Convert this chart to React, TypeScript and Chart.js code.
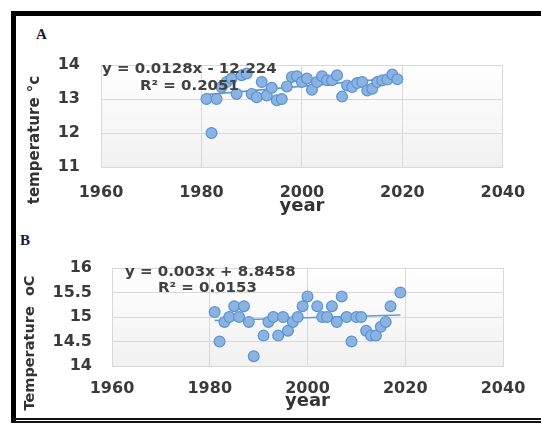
import React, { useEffect, useRef } from "react";
import { Chart, registerables } from "chart.js";

Chart.register(...registerables);

// ---------- data ----------
const xTickValues = [1960, 1980, 2000, 2020, 2040];

const yearsA = [1981, 1982, 1983, 1984, 1985, 1986, 1987, 1988, 1989, 1990, 1991, 1992, 1993, 1994, 1995, 1996, 1997, 1998, 1999, 2000, 2001, 2002, 2003, 2004, 2005, 2006, 2007, 2008, 2009, 2010, 2011, 2012, 2013, 2014, 2015, 2016, 2017, 2018, 2019];
const tempA = [13.0, 12.0, 13.0, 13.35, 13.5, 13.6, 13.15, 13.7, 13.75, 13.15, 13.05, 13.5, 13.1, 13.33, 12.96, 13.0, 13.37, 13.65, 13.67, 13.5, 13.6, 13.27, 13.5, 13.67, 13.55, 13.55, 13.7, 13.07, 13.4, 13.35, 13.47, 13.5, 13.25, 13.3, 13.5, 13.55, 13.57, 13.72, 13.58];
const trendYearsA = [1981, 2019];
const trendA = [13.13, 13.62];
const eqA = ["y = 0.0128x - 12.224", "R\u00B2 = 0.2051"];
const yTicksA = [11, 12, 13, 14];

const yearsB = [1981, 1982, 1983, 1984, 1985, 1986, 1987, 1988, 1989, 1991, 1992, 1993, 1994, 1995, 1996, 1997, 1998, 1999, 2000, 2002, 2003, 2004, 2005, 2006, 2007, 2008, 2009, 2010, 2011, 2012, 2013, 2014, 2015, 2016, 2017, 2019];
const tempB = [15.1, 14.5, 14.9, 15.0, 15.22, 15.0, 15.22, 14.9, 14.2, 14.62, 14.9, 15.0, 14.62, 15.0, 14.72, 14.9, 15.0, 15.22, 15.42, 15.22, 15.0, 15.0, 15.22, 14.9, 15.42, 15.0, 14.5, 15.0, 15.0, 14.72, 14.62, 14.62, 14.8, 14.9, 15.22, 15.5];
const trendYearsB = [1981, 2019];
const trendB = [14.93, 15.04];
const eqB = ["y = 0.003x + 8.8458", "R\u00B2 = 0.0153"];
const yTicksB = [14, 14.5, 15, 15.5, 16];

// ---------- styling ----------
const FONT = "'DejaVu Sans', Verdana, sans-serif";
const GRID = "#d9d9d9";
const TEXT = "#3a3a3a";

type Geo = {
  left: number; top: number; width: number; height: number;
  padTop: number; padRight: number;
  yAxisW: number; yTickPad: number; yTitlePos: number[]; yTitleSize: number;
  xAxisH: number; xTickPad: number; xTitlePadB: number;
  eqPos: number[][]; // offsets from chart area left/top
};

type PanelProps = {
  years: number[]; temps: number[]; trendYears: number[]; trendVals: number[];
  yTicks: number[]; eq: string[]; yTitle: string; geo: Geo;
};

function Panel({ years, temps, trendYears, trendVals, yTicks, eq, yTitle, geo }: PanelProps) {
  const ref = useRef<HTMLCanvasElement | null>(null);
  useEffect(() => {
    if (!ref.current) return;
    const bgPlugin = {
      id: "bgGrad",
      beforeDraw(chart: any) {
        const { ctx, chartArea: a } = chart;
        const g = ctx.createLinearGradient(0, a.top, 0, a.bottom);
        g.addColorStop(0, "#ffffff");
        g.addColorStop(1, "#f1f1f1");
        ctx.save();
        ctx.fillStyle = g;
        ctx.fillRect(a.left, a.top, a.right - a.left, a.bottom - a.top);
        ctx.restore();
      },
    };
    const textPlugin = {
      id: "eqText",
      afterDatasetsDraw(chart: any) {
        const { ctx, chartArea: a } = chart;
        ctx.save();
        ctx.font = `bold 14px ${FONT}`;
        ctx.fillStyle = "#404040";
        ctx.textBaseline = "middle";
        ctx.textAlign = "left";
        eq.forEach((t, i) => {
          const [dx, dy] = geo.eqPos[i];
          ctx.save();
          ctx.translate(a.left + dx, a.top + dy);
          ctx.scale(1.07, 1);
          ctx.fillText(t, 0, 0);
          ctx.restore();
        });
        // rotated y-axis title
        ctx.save();
        ctx.font = `bold ${geo.yTitleSize}px ${FONT}`;
        ctx.fillStyle = "#333";
        ctx.textAlign = "center";
        ctx.textBaseline = "middle";
        ctx.translate(geo.yTitlePos[0], geo.yTitlePos[1]);
        ctx.rotate(-Math.PI / 2);
        ctx.fillText(yTitle, 0, 0);
        ctx.restore();
        ctx.restore();
      },
    };
    const chart = new Chart(ref.current, {
      type: "scatter",
      data: {
        datasets: [
          {
            data: years.map((x, i) => ({ x, y: temps[i] })),
            backgroundColor: "#8ab3e1",
            borderColor: "#5a93d3",
            borderWidth: 1.2,
            pointRadius: 5.4,
            order: 0,
          },
          {
            type: "line",
            data: trendYears.map((x, i) => ({ x, y: trendVals[i] })),
            borderColor: "#5b9bd5",
            borderWidth: 1.6,
            pointRadius: 0,
            showLine: true,
            fill: false,
            order: 1,
          } as any,
        ],
      },
      options: {
        animation: false,
        responsive: false,
        maintainAspectRatio: false,
        devicePixelRatio: 1,
        layout: { padding: { left: 0, top: geo.padTop, right: geo.padRight, bottom: 0 } },
        plugins: { legend: { display: false }, tooltip: { enabled: false }, title: { display: false } },
        scales: {
          x: {
            type: "linear",
            min: 1960,
            max: 2040,
            afterBuildTicks: (s: any) => { s.ticks = xTickValues.map((v) => ({ value: v })); },
            afterFit: (s: any) => { s.height = geo.xAxisH; },
            grid: { color: GRID, lineWidth: 1, drawTicks: false },
            border: { color: GRID },
            ticks: { padding: geo.xTickPad, color: TEXT, font: { family: FONT, size: 16, weight: "bold" }, maxRotation: 0, callback: (v: any) => String(v) },
            title: { display: true, text: "year", color: "#333", font: { family: FONT, size: 18, weight: "bold" }, padding: { top: 0, bottom: geo.xTitlePadB } },
          },
          y: {
            type: "linear",
            min: yTicks[0],
            max: yTicks[yTicks.length - 1],
            afterBuildTicks: (s: any) => { s.ticks = yTicks.map((v) => ({ value: v })); },
            afterFit: (s: any) => { s.width = geo.yAxisW; },
            grid: { color: GRID, lineWidth: 1, drawTicks: false },
            border: { color: GRID },
            ticks: { padding: geo.yTickPad, color: TEXT, font: { family: FONT, size: 16, weight: "bold" }, callback: (v: any) => String(v) },
            title: { display: false },
          },
        },
      } as any,
      plugins: [bgPlugin, textPlugin],
    });
    return () => chart.destroy();
  }, []);
  return (
    <canvas
      ref={ref}
      width={geo.width}
      height={geo.height}
      style={{ position: "absolute", left: geo.left, top: geo.top, width: geo.width, height: geo.height }}
    />
  );
}

const geoA: Geo = {
  left: 16, top: 17, width: 525, height: 202,
  padTop: 48, padRight: 38,
  yAxisW: 85, yTickPad: 21, yTitlePos: [19, 123], yTitleSize: 15,
  xAxisH: 52, xTickPad: 15.9, xTitlePadB: 1.7,
  eqPos: [[1, 4], [39, 21]],
};

const geoB: Geo = {
  left: 16, top: 222, width: 525, height: 196,
  padTop: 46, padRight: 38,
  yAxisW: 96, yTickPad: 20, yTitlePos: [14.5, 121], yTitleSize: 14.5,
  xAxisH: 52, xTickPad: 13.4, xTitlePadB: 6.2,
  eqPos: [[13, 4.5], [46, 20]],
};

export default function App() {
  return (
    <div style={{ position: "fixed", left: 0, top: 0, width: 541, height: 425, background: "#fff", overflow: "hidden" }}>
      <div style={{ position: "absolute", left: 11, top: 11, width: 530, height: 5, background: "#000" }} />
      <div style={{ position: "absolute", left: 11, top: 11, width: 5, height: 412, background: "#000" }} />
      <div style={{ position: "absolute", left: 11, top: 418, width: 530, height: 1.5, background: "#111" }} />
      <div style={{ position: "absolute", left: 11, top: 421, width: 530, height: 1.5, background: "#111" }} />
      <div style={{ position: "absolute", left: 36, top: 26, font: "bold 15px 'Liberation Serif', serif", color: "#1a1a3a" }}>A</div>
      <div style={{ position: "absolute", left: 20, top: 232, font: "bold 15px 'Liberation Serif', serif", color: "#1a1a3a" }}>B</div>
      <Panel years={yearsA} temps={tempA} trendYears={trendYearsA} trendVals={trendA} yTicks={yTicksA} eq={eqA} yTitle={"temperature \u00B0c"} geo={geoA} />
      <Panel years={yearsB} temps={tempB} trendYears={trendYearsB} trendVals={trendB} yTicks={yTicksB} eq={eqB} yTitle={"Temperature  oC"} geo={geoB} />
    </div>
  );
}
